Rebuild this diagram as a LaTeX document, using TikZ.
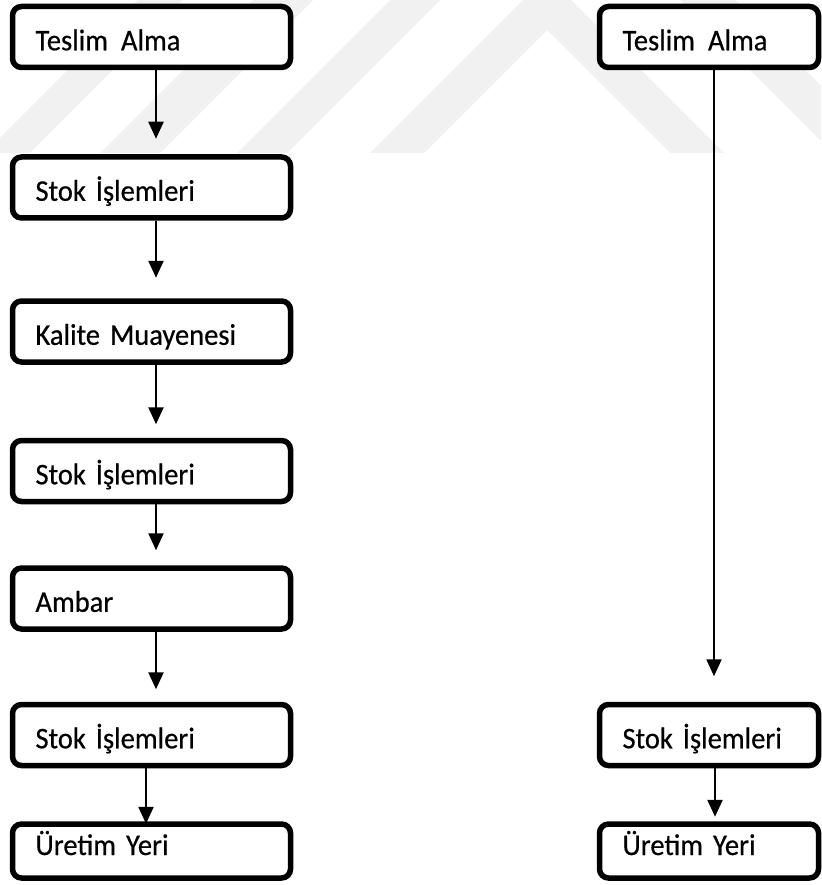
\documentclass[tikz,border=0pt]{standalone}
\usepackage{fontspec}
\setmainfont{Carlito}[WordSpace=0.5,FakeBold=0.5,FakeStretch=0.95]
\usetikzlibrary{arrows.meta}
\definecolor{wmark}{RGB}{241,241,241}
\begin{document}
\begin{tikzpicture}[x=1pt,y=-1pt,
  box/.style={draw=black, line width=5.5pt, rounded corners=9pt, fill=white,
    minimum height=61pt, inner xsep=23pt, inner ysep=0pt,
    text height=30pt, text depth=3.4pt, align=left,
    font=\fontsize{30}{35}\selectfont},
  lbox/.style={box, minimum width=278pt, text width=232pt},
  rbox/.style={box, minimum width=219pt, text width=173pt},
  lowbox/.style={minimum height=54pt, text depth=22pt},
  arr/.style={line width=2.4pt, -{Triangle[length=17pt,width=15pt]}}]
\useasboundingbox (0,0) rectangle (821,885);
\fill[white] (0,0) rectangle (821,885);

% faint striped background emblem
\begin{scope}
  \clip (0,0) rectangle (821,153);
  \fill[wmark] (-15,153) -- (30,153) -- (183,0) -- (138,0) -- cycle;
  \fill[wmark] (100,153) -- (160,153) -- (313,0) -- (253,0) -- cycle;
  \fill[wmark] (237,153) -- (287,153) -- (440,0) -- (390,0) -- cycle;
  \fill[wmark] (370,153) -- (424,153) -- (547,30) -- (670,153) -- (724,153)
    -- (547,-24) -- cycle;
  \fill[wmark] (680,0) -- (735,0) -- (888,153) -- (833,153) -- cycle;
\end{scope}

% left column
\node[lbox] (b1) at (151.5,37)  {Teslim\hspace{13pt}Alma};
\node[lbox] (b2) at (151.5,187.5) {Stok İşlemleri};
\node[lbox] (b3) at (151.5,331.5) {Kalite Muayenesi};
\node[lbox] (b4) at (151.5,471) {Stok İşlemleri};
\node[lbox] (b5) at (151.5,598.5) {Ambar};
\node[lbox] (b6) at (151.5,735) {Stok İşlemleri};
\node[lbox,lowbox] (b7) at (151.5,851) {Üretim Yeri};

% right column
\node[rbox] (r1) at (709,37)  {Teslim\hspace{13pt}Alma};
\node[rbox] (r2) at (709,735) {Stok İşlemleri};
\node[rbox,lowbox] (r3) at (709,851) {Üretim Yeri};

% connectors
\draw[arr] ([xshift=4.5pt]b1.south) -- ([xshift=4.5pt,yshift=15.5pt]b2.north);
\draw[arr] ([xshift=4.5pt]b2.south) -- ([xshift=4.5pt,yshift=20.5pt]b3.north);
\draw[arr] ([xshift=4.5pt]b3.south) -- ([xshift=4.5pt,yshift=13.5pt]b4.north);
\draw[arr] ([xshift=4.5pt]b4.south) -- ([xshift=4.5pt,yshift=15pt]b5.north);
\draw[arr] ([xshift=4.5pt]b5.south) -- ([xshift=4.5pt,yshift=12.5pt]b6.north);
\draw[arr] ([xshift=-5.5pt]b6.south) -- ([xshift=-5.5pt,yshift=-2.5pt]b7.north);
\draw[arr] ([xshift=5pt]r1.south) -- ([xshift=5pt,yshift=25.5pt]r2.north);
\draw[arr] ([xshift=6pt]r2.south) -- ([xshift=6pt,yshift=4.5pt]r3.north);
\end{tikzpicture}
\end{document}
